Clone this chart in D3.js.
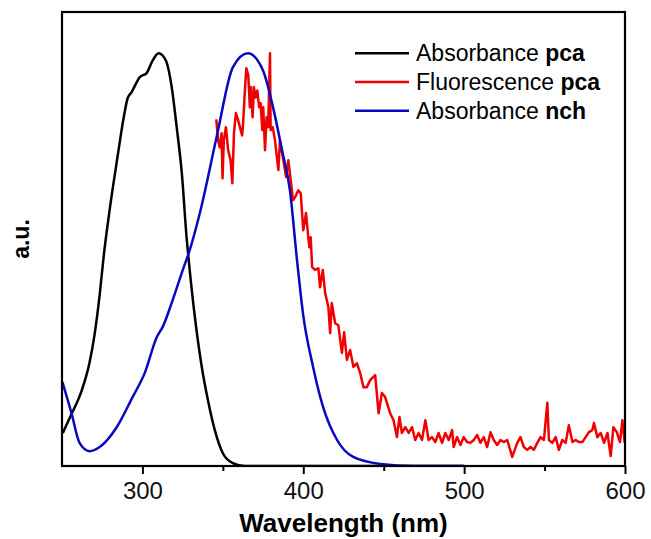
<!DOCTYPE html>
<html>
<head>
<meta charset="utf-8">
<script src="https://cdn.jsdelivr.net/npm/d3@7"></script>
<style>
  body { margin: 0; background: #fff; }
  svg { display: block; font-family: "Liberation Sans", Arial, sans-serif; }
</style>
</head>
<body>
<svg id="chart" width="651" height="539"></svg>
<script>
// wavelength (nm) / intensity (a.u., peak = 1)
const absPcaWl = [250.5, 255.7, 262.0, 267.1, 270.2, 273.4, 276.0, 279.6, 284.6, 288.3, 290.8, 293.3, 298.3,
  302.6, 306.4, 310.1, 314.5, 318.2, 321.3, 324.5, 327.6, 328.5, 332.6, 336.9, 340.7, 345.0, 350.0, 356.2,
  363.7, 400, 500];
const absPcaVal = [0.080, 0.124, 0.180, 0.250, 0.317, 0.414, 0.511, 0.620, 0.751, 0.843, 0.891, 0.906, 0.942,
  0.952, 0.983, 1.0, 0.983, 0.918, 0.821, 0.709, 0.547, 0.51, 0.361, 0.240, 0.160, 0.087, 0.031, 0.007,
  0.0, 0.0, 0.0];

const absNchWl = [250.3, 255.9, 260.9, 267.1, 273.4, 284.0, 293.9, 301.4, 308.9, 312.6, 318.8, 325.1, 329.4,
  335.7, 346.3, 356.2, 365.6, 374.9, 381.2, 386.8, 391.7, 396.1, 399.8, 406.1, 412.3, 421.0, 431.0, 447.8, 468.4, 500];
const absNchVal = [0.203, 0.128, 0.056, 0.036, 0.046, 0.094, 0.167, 0.225, 0.312, 0.337, 0.402, 0.475, 0.523,
  0.613, 0.800, 0.966, 1.0, 0.959, 0.869, 0.765, 0.668, 0.499, 0.370, 0.240, 0.143, 0.063, 0.022, 0.005, 0.0, 0.0];

const fluPcaWl = [345.9, 347.1, 348.1, 349.2, 349.8, 350.6, 351.9, 353.3, 354.8, 355.9, 356.9, 358.1, 359.5,
  360.6, 362.0, 362.6, 363.7, 364.6, 365.8, 366.8, 367.4, 368.5, 369.3, 370.4, 371.4, 372.6, 373.5, 374.5,
  375.1, 376.2, 377.2, 378.2, 379.3, 379.7, 381.0, 382.4, 384.5, 385.5, 387.6, 389.3, 390.7, 392.2, 393.6,
  394.9, 396.9, 398.4, 400.0, 401.7, 403.1, 403.8, 404.6, 405.5, 407.3, 409.4, 410.4, 412.1, 413.6, 415.6,
  416.7, 417.7, 419.8, 421.8, 424.0, 425.4, 427.1, 429.1, 431.2, 433.3, 435.4, 437.4, 439.5, 441.6, 444.7,
  446.8, 448.9, 450.9, 454.0, 456.1, 458.2, 459.8, 461.3, 463.4, 465.5, 467.6, 469.6, 471.7, 473.8, 475.9,
  477.9, 480.0, 482.1, 484.1, 486.3, 488.3, 490.4, 492.5, 493.5, 495.6, 497.7, 499.7, 501.8, 503.9, 506.0,
  508.1, 510.1, 512.2, 514.3, 516.4, 518.4, 520.5, 522.6, 524.6, 526.8, 529.9, 533.0, 535.0, 537.1, 539.2,
  541.3, 543.3, 545.5, 547.5, 549.6, 551.7, 552.7, 554.8, 556.9, 558.9, 561.0, 563.1, 565.1, 567.3, 569.3,
  571.4, 573.5, 575.5, 577.6, 579.7, 580.7, 582.8, 584.9, 587.0, 589.1, 591.1, 592.8, 594.9, 596.9, 598.4, 599.8];
const fluPcaVal = [0.840, 0.789, 0.772, 0.806, 0.697, 0.789, 0.821, 0.765, 0.741, 0.685, 0.806, 0.855, 0.838,
  0.821, 0.801, 0.831, 0.910, 0.964, 0.947, 0.869, 0.918, 0.845, 0.918, 0.893, 0.910, 0.869, 0.879, 0.814,
  0.869, 0.765, 0.845, 0.821, 1.0, 0.814, 0.821, 0.789, 0.717, 0.789, 0.741, 0.700, 0.741, 0.692, 0.644,
  0.651, 0.668, 0.661, 0.571, 0.613, 0.554, 0.530, 0.554, 0.482, 0.475, 0.479, 0.433, 0.475, 0.419, 0.385,
  0.322, 0.395, 0.346, 0.341, 0.274, 0.324, 0.257, 0.281, 0.240, 0.249, 0.225, 0.191, 0.191, 0.208, 0.220,
  0.128, 0.177, 0.167, 0.128, 0.111, 0.070, 0.119, 0.080, 0.094, 0.080, 0.094, 0.063, 0.080, 0.063, 0.111,
  0.063, 0.070, 0.058, 0.080, 0.056, 0.080, 0.063, 0.087, 0.046, 0.070, 0.051, 0.070, 0.058, 0.056, 0.063,
  0.075, 0.056, 0.070, 0.046, 0.082, 0.063, 0.051, 0.063, 0.058, 0.063, 0.022, 0.056, 0.070, 0.046, 0.039,
  0.046, 0.039, 0.056, 0.070, 0.063, 0.153, 0.063, 0.056, 0.070, 0.039, 0.063, 0.056, 0.099, 0.058, 0.063,
  0.058, 0.058, 0.070, 0.082, 0.087, 0.104, 0.070, 0.080, 0.056, 0.080, 0.024, 0.094, 0.082, 0.058, 0.111, 0.056];

const majorTicks = [300, 400, 500, 600];
const minorTicks = [350, 450, 550];

const series = [
  { name: 'Absorbance ', tag: 'pca', color: '#000000', wl: absPcaWl, val: absPcaVal, smooth: true },
  { name: 'Fluorescence ', tag: 'pca', color: '#f00000', wl: fluPcaWl, val: fluPcaVal, smooth: false },
  { name: 'Absorbance ', tag: 'nch', color: '#0808c0', wl: absNchWl, val: absNchVal, smooth: true }
];

const margin = { top: 12, right: 26, bottom: 73, left: 62 };
const width  = 651 - margin.left - margin.right;
const height = 539 - margin.top - margin.bottom;

const svg = d3.select('#chart');
const g = svg.append('g').attr('transform', `translate(${margin.left},${margin.top})`);

const x = d3.scaleLinear().domain([250, 600]).range([0, width]);
const y = d3.scaleLinear().domain([0, 1.1]).range([height, 0]);

g.append('clipPath').attr('id', 'clip')
  .append('rect').attr('width', width).attr('height', height);

// curves
series.forEach(s => {
  const pts = s.wl.map((w, i) => [w, s.val[i]]);
  const line = d3.line()
    .x(d => x(d[0]))
    .y(d => y(d[1]))
    .curve(s.smooth ? d3.curveMonotoneX : d3.curveLinear);
  g.append('path')
    .datum(pts)
    .attr('clip-path', 'url(#clip)')
    .attr('fill', 'none')
    .attr('stroke', s.color)
    .attr('stroke-width', 2.5)
    .attr('stroke-linejoin', 'round')
    .attr('d', line);
});

// axes
const xAxis = g.append('g')
  .attr('transform', `translate(0,${height})`)
  .call(d3.axisBottom(x).tickValues(majorTicks).tickSize(8).tickSizeOuter(0).tickPadding(8));
xAxis.select('.domain').remove();
xAxis.selectAll('line').attr('stroke', '#000').attr('stroke-width', 2);
xAxis.selectAll('text')
  .attr('fill', '#111')
  .style('font-size', '24px')
  .style('font-family', '"Liberation Sans", Arial, sans-serif');

const xMinor = g.append('g')
  .attr('transform', `translate(0,${height})`)
  .call(d3.axisBottom(x).tickValues(minorTicks).tickSize(5).tickSizeOuter(0).tickFormat(''));
xMinor.select('.domain').remove();
xMinor.selectAll('line').attr('stroke', '#000').attr('stroke-width', 2);

// frame
g.append('rect')
  .attr('width', width).attr('height', height)
  .attr('fill', 'none').attr('stroke', '#000').attr('stroke-width', 2.2);

// axis titles
svg.append('text')
  .attr('x', margin.left + width / 2)
  .attr('y', 532)
  .attr('text-anchor', 'middle')
  .style('font-size', '26px').style('font-weight', 'bold')
  .text('Wavelength (nm)');

svg.append('text')
  .attr('transform', `translate(29,${margin.top + height / 2}) rotate(-90)`)
  .attr('text-anchor', 'middle')
  .style('font-size', '23px').style('font-weight', 'bold')
  .text('a.u.');

// legend
const legend = g.append('g').attr('transform', 'translate(293,41.3)');
series.forEach((s, i) => {
  const row = legend.append('g').attr('transform', `translate(0,${i * 28.7})`);
  row.append('line')
    .attr('x1', 0).attr('x2', 54)
    .attr('stroke', s.color).attr('stroke-width', 2.5);
  const t = row.append('text')
    .attr('x', 61).attr('y', 8)
    .style('font-size', '23px');
  t.append('tspan').text(s.name);
  t.append('tspan').style('font-weight', 'bold').text(s.tag);
});
</script>
</body>
</html>
